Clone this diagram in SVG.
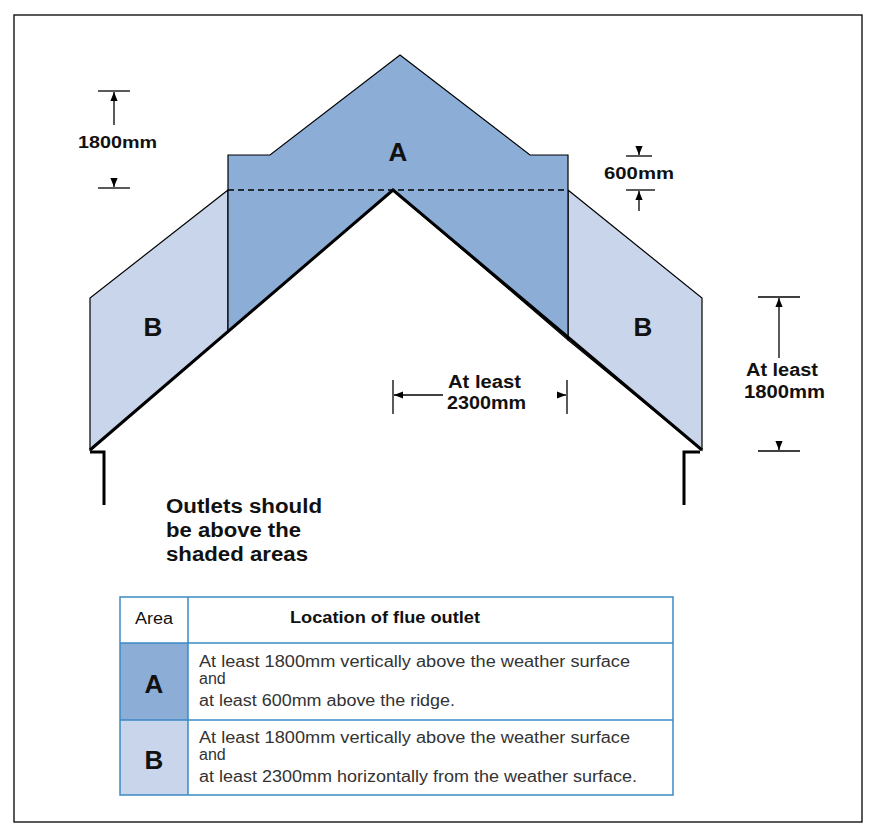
<svg xmlns="http://www.w3.org/2000/svg" width="882" height="838" viewBox="0 0 882 838">
<style>
text{font-family:"Liberation Sans",Arial,sans-serif;fill:#111}
.b{font-weight:bold}
.dim{stroke:#000;stroke-width:1.3;fill:none}
.t{font-size:16px;fill:#333}
</style>
<defs>
<marker id="ah" viewBox="0 0 10 10" refX="10" refY="5" markerWidth="7" markerHeight="7" orient="auto-start-reverse"><path d="M0,1L10,5L0,9z" fill="#000"/></marker>
</defs>
<rect x="0" y="0" width="882" height="838" fill="#fff"/>
<rect x="14" y="15" width="848" height="807" fill="none" stroke="#000" stroke-width="1.3"/>
<g id="zoneB-left"><polygon points="228,190 90,298 90,450 228,332" fill="#c8d5ea" stroke="#000" stroke-width="1.2"/></g>
<g id="zoneB-right"><polygon points="568,190 702,298 702,450 568,340" fill="#c8d5ea" stroke="#000" stroke-width="1.2"/></g>
<g id="zoneA"><polygon points="400,55 530,155 568,155 568,340 393,190 228,332 228,155 270,155" fill="#8badd6" stroke="#000" stroke-width="1.2"/></g>
<g id="roof">
<line x1="228" y1="190" x2="568" y2="190" stroke="#000" stroke-width="1.3" stroke-dasharray="6,4"/>
<polyline points="90,450 393,190 702,450" fill="none" stroke="#000" stroke-width="3"/>
<polyline points="90,452 104,452 104,505" fill="none" stroke="#000" stroke-width="3"/>
<polyline points="700,452 684,452 684,505" fill="none" stroke="#000" stroke-width="3"/>
</g>
<text class="b" x="398" y="161" font-size="26" text-anchor="middle">A</text>
<text class="b" x="153" y="336" font-size="26" text-anchor="middle">B</text>
<text class="b" x="643" y="336" font-size="26" text-anchor="middle">B</text>
<g id="connectors">
<line class="dim" x1="98" y1="91" x2="130" y2="91"/>
<line class="dim" x1="114" y1="125" x2="114" y2="92" marker-end="url(#ah)"/>
<line class="dim" x1="98" y1="188" x2="130" y2="188"/>
<line class="dim" x1="114" y1="180" x2="114" y2="187" marker-end="url(#ah)"/>
<line class="dim" x1="626" y1="156" x2="652" y2="156"/>
<line class="dim" x1="639" y1="147" x2="639" y2="155" marker-end="url(#ah)"/>
<line class="dim" x1="626" y1="190" x2="655" y2="190"/>
<line class="dim" x1="639" y1="211" x2="639" y2="191" marker-end="url(#ah)"/>
<line class="dim" x1="758" y1="297" x2="800" y2="297"/>
<line class="dim" x1="779" y1="358" x2="779" y2="298" marker-end="url(#ah)"/>
<line class="dim" x1="758" y1="451" x2="800" y2="451"/>
<line class="dim" x1="779" y1="442" x2="779" y2="450" marker-end="url(#ah)"/>
<line class="dim" x1="393" y1="380" x2="393" y2="414"/>
<line class="dim" x1="443" y1="395" x2="394" y2="395" marker-end="url(#ah)"/>
<line class="dim" x1="567" y1="380" x2="567" y2="414"/>
<line class="dim" x1="558" y1="395" x2="566" y2="395" marker-end="url(#ah)"/>
</g>
<text class="b" x="78" y="148" font-size="17" textLength="79" lengthAdjust="spacingAndGlyphs">1800mm</text>
<text class="b" x="604" y="179" font-size="17" textLength="70" lengthAdjust="spacingAndGlyphs">600mm</text>
<text class="b" x="746" y="376" font-size="18" textLength="72" lengthAdjust="spacingAndGlyphs">At least</text>
<text class="b" x="744" y="398" font-size="18" textLength="81" lengthAdjust="spacingAndGlyphs">1800mm</text>
<text class="b" x="448" y="388" font-size="18" textLength="73" lengthAdjust="spacingAndGlyphs">At least</text>
<text class="b" x="447" y="409" font-size="18" textLength="79" lengthAdjust="spacingAndGlyphs">2300mm</text>
<text class="b" x="166" y="513" font-size="20" textLength="156" lengthAdjust="spacingAndGlyphs">Outlets should</text>
<text class="b" x="166" y="537" font-size="20" textLength="135" lengthAdjust="spacingAndGlyphs">be above the</text>
<text class="b" x="166" y="561" font-size="20" textLength="142" lengthAdjust="spacingAndGlyphs">shaded areas</text>
<g id="table">
<rect x="120" y="643" width="68" height="77" fill="#8badd6"/>
<rect x="120" y="720" width="68" height="75" fill="#c8d5ea"/>
<rect x="120" y="597" width="553" height="198" fill="none" stroke="#3a8ac4" stroke-width="1.5"/>
<line x1="120" y1="643" x2="673" y2="643" stroke="#3a8ac4" stroke-width="1.5"/>
<line x1="120" y1="720" x2="673" y2="720" stroke="#3a8ac4" stroke-width="1.5"/>
<line x1="188" y1="597" x2="188" y2="795" stroke="#3a8ac4" stroke-width="1.5"/>
<text x="135" y="624" font-size="16" textLength="38" lengthAdjust="spacingAndGlyphs">Area</text>
<text class="b" x="290" y="623" font-size="16" textLength="190" lengthAdjust="spacingAndGlyphs">Location of flue outlet</text>
<text class="b" x="154" y="693" font-size="26" text-anchor="middle">A</text>
<text class="b" x="154" y="769" font-size="26" text-anchor="middle">B</text>
<text class="t" x="199" y="667" textLength="431" lengthAdjust="spacingAndGlyphs">At least 1800mm vertically above the weather surface</text>
<text class="t" x="199" y="684">and</text>
<text class="t" x="199" y="706" textLength="256" lengthAdjust="spacingAndGlyphs">at least 600mm above the ridge.</text>
<text class="t" x="199" y="743" textLength="431" lengthAdjust="spacingAndGlyphs">At least 1800mm vertically above the weather surface</text>
<text class="t" x="199" y="760">and</text>
<text class="t" x="199" y="782" textLength="438" lengthAdjust="spacingAndGlyphs">at least 2300mm horizontally from the weather surface.</text>
</g>
</svg>
